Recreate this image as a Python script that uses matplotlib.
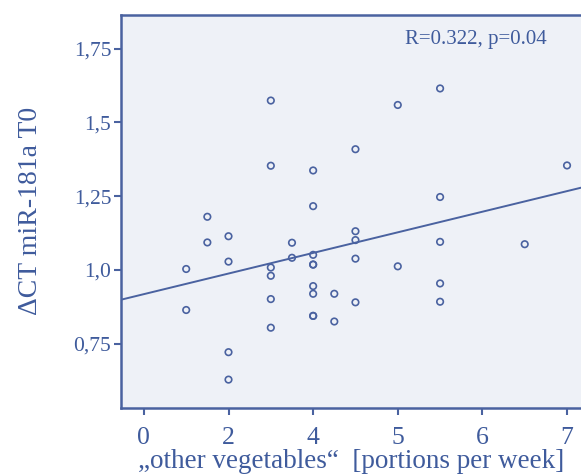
import numpy as np
import matplotlib
matplotlib.use("Agg")
import matplotlib.pyplot as plt

# x positions on the axis (ticks evenly spaced, labelled 0,2,4,5,6,7)
x_vals = [0.5, 0.5,
          0.75, 0.75,
          1.0, 1.0, 1.0, 1.0,
          1.5, 1.5, 1.5, 1.5, 1.5, 1.5,
          1.75, 1.75,
          2.0, 2.0, 2.0, 2.0, 2.0, 2.0, 2.0, 2.0, 2.0,
          2.25, 2.25,
          2.5, 2.5, 2.5, 2.5, 2.5,
          3.0, 3.0,
          3.5, 3.5, 3.5, 3.5, 3.5,
          4.5,
          5.0]
y_vals = [1.003, 0.864,
          1.180, 1.093,
          1.114, 1.028, 0.721, 0.628,
          1.574, 1.353, 1.008, 0.980, 0.901, 0.804,
          1.092, 1.041,
          1.337, 1.216, 1.051, 1.018, 1.018, 0.945, 0.919, 0.844, 0.844,
          0.919, 0.825,
          1.409, 1.131, 1.101, 1.038, 0.890,
          1.559, 1.012,
          1.615, 1.247, 1.095, 0.954, 0.892,
          1.087,
          1.354]

x_tick_pos = [0, 1, 2, 3, 4, 5]
x_tick_labels = ["0", "2", "4", "5", "6", "7"]
y_tick_pos = [0.75, 1.0, 1.25, 1.5, 1.75]
y_tick_labels = ["0,75", "1,0", "1,25", "1,5", "1,75"]

annotation = "R=0.322, p=0.04"
x_label = "\u201eother vegetables\u201c  [portions per week]"
y_label = "\u0394CT miR-181a T0"

blue = "#4a62a0"
text_blue = "#3f5b9c"
bg = "#eef1f7"

plt.rcParams['font.family'] = ['Liberation Serif', 'DejaVu Serif']

fig = plt.figure(figsize=(5.81, 4.74), dpi=100)
ax = fig.add_axes([0.2083, 0.140, 0.7917, 0.829])
ax.set_facecolor(bg)

ax.scatter(x_vals, y_vals, s=22, facecolors='none', edgecolors=blue, linewidths=1.2, zorder=3)

xlim = (-0.27, 5.165)
slope, intercept = np.polyfit(x_vals, y_vals, 1)
xx = np.array(xlim)
ax.plot(xx, intercept + slope * xx, color=blue, lw=1.4, zorder=2)

ax.set_xlim(*xlim)
ax.set_ylim(0.533, 1.865)

ax.set_xticks(x_tick_pos)
ax.set_xticklabels(x_tick_labels, fontsize=18.5, color=text_blue)
ax.set_yticks(y_tick_pos)
ax.set_yticklabels(y_tick_labels, fontsize=15.5, color=text_blue)
ax.tick_params(axis='both', direction='out', length=5, width=1.5, color=blue)
ax.tick_params(axis='x', pad=9)
ax.tick_params(axis='y', pad=2)

for side in ['left', 'bottom', 'top']:
    ax.spines[side].set_color(blue)
    ax.spines[side].set_linewidth(1.8)
ax.spines['right'].set_visible(False)

ax.set_xlabel(x_label, fontsize=19.5, color=text_blue, labelpad=0)
ax.set_ylabel(y_label, fontsize=20, color=text_blue, labelpad=22)

ax.text(3.085, 1.781, annotation, fontsize=15, color=text_blue, va='center', ha='left')

fig.savefig("out.png", dpi=100, facecolor='white')
